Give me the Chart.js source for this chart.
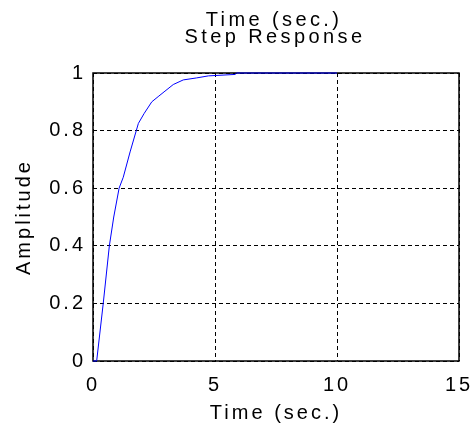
<!DOCTYPE html>
<html>
<head>
<meta charset="utf-8">
<script src="https://cdn.jsdelivr.net/npm/chart.js@4"></script>
<style>
  html, body { margin: 0; padding: 0; background: #fff; }
  canvas { display: block; }
</style>
</head>
<body>
<canvas id="chart" width="476" height="434"></canvas>
<script>
// step response
const times = [0, 0.15, 0.42, 0.67, 0.85, 1.07, 1.24, 1.52, 1.86, 2.1, 2.41, 2.7, 2.95, 3.29, 3.7, 4.25, 4.73, 5.82, 5.89, 10];
const amplitude = [0, 0, 0.2, 0.4, 0.5, 0.6, 0.638, 0.726, 0.825, 0.86, 0.9, 0.92, 0.937, 0.96, 0.976, 0.983, 0.99, 0.995, 1.0, 1.0];
const xTicks = [0, 5, 10, 15];
const yTicks = [0, 0.2, 0.4, 0.6, 0.8, 1];
const titleLines = ['Time (sec.)', 'Step Response'];
const xLabel = 'Time (sec.)';
const yLabel = 'Amplitude';

const FONT = '"Liberation Sans", Arial, sans-serif';
const SPACING = '3px';

const spacing = {
  id: 'spacing',
  beforeLayout(chart) { chart.ctx.letterSpacing = SPACING; },
  beforeDraw(chart) { chart.ctx.letterSpacing = SPACING; },
};

// box round the plot goes under the line, the title on top
const frame = {
  id: 'frame',
  beforeDatasetsDraw(chart) {
    const { ctx, chartArea: a } = chart;
    ctx.save();
    ctx.setLineDash([]);
    ctx.strokeStyle = '#000';
    ctx.lineWidth = 1.5;
    ctx.strokeRect(a.left, a.top, a.right - a.left, a.bottom - a.top);
    ctx.restore();
  },
  afterDraw(chart) {
    const { ctx } = chart;
    ctx.save();
    ctx.letterSpacing = '3.4px';
    ctx.fillStyle = '#000';
    ctx.font = '20px ' + FONT;
    ctx.textAlign = 'center';
    ctx.textBaseline = 'alphabetic';
    ctx.fillText(titleLines[0], 274, 26);
    ctx.fillText(titleLines[1], 275, 43);
    ctx.restore();
  },
};

const tickFont = { family: FONT, size: 20 };

new Chart(document.getElementById('chart'), {
  type: 'line',
  data: {
    datasets: [{
      data: times.map((t, i) => ({ x: t, y: amplitude[i] })),
      borderColor: '#0000ff',
      borderWidth: 1,
      pointRadius: 0,
      tension: 0,
      fill: false,
      clip: 2,
    }],
  },
  options: {
    responsive: false,
    animation: false,
    layout: { padding: { top: 73, right: 0, left: 0, bottom: 0 } },
    plugins: { legend: { display: false }, tooltip: { enabled: false } },
    scales: {
      x: {
        type: 'linear',
        min: 0,
        max: 15,
        afterBuildTicks: (s) => { s.ticks = xTicks.map((v) => ({ value: v })); },
        afterFit: (s) => { s.height = 73; s.paddingLeft = 0; s.paddingRight = 17; },
        grid: { color: '#000', lineWidth: 1, drawTicks: false },
        border: { display: false, dash: [4, 3] },
        ticks: { color: '#000', font: tickFont, padding: 12, maxRotation: 0, callback: (v) => String(v) },
        title: { display: true, text: xLabel, color: '#000', font: tickFont, padding: { top: 0, bottom: 9 } },
      },
      y: {
        min: 0,
        max: 1,
        afterBuildTicks: (s) => { s.ticks = yTicks.map((v) => ({ value: v })); },
        afterFit: (s) => { s.width = 93; },
        grid: { color: '#000', lineWidth: 1, drawTicks: false },
        border: { display: false, dash: [4, 3] },
        ticks: { color: '#000', font: tickFont, padding: 7, callback: (v) => String(v) },
        title: { display: true, text: yLabel, color: '#000', font: tickFont, padding: { top: 12, bottom: 0 } },
      },
    },
  },
  plugins: [spacing, frame],
});
</script>
</body>
</html>
